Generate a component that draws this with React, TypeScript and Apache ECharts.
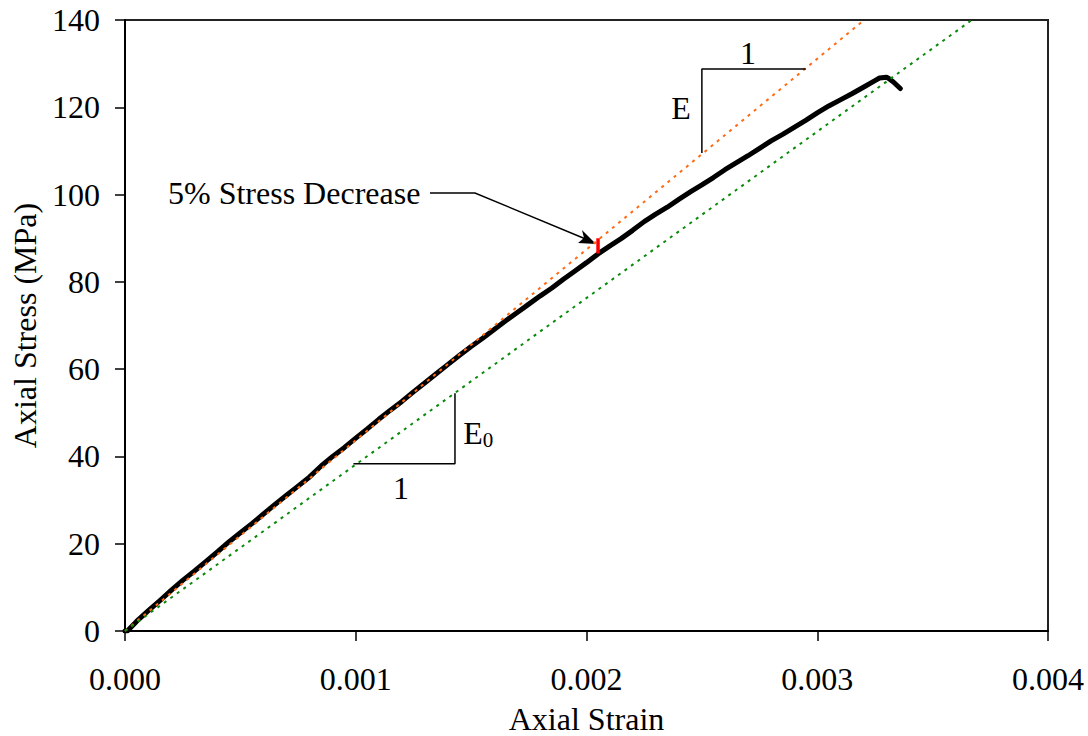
import React, { useEffect, useRef } from "react";
import * as echarts from "echarts";

// Axial strain / axial stress (MPa) for the test curve
const curveStrain = [
  0, 0.00001, 0.00005, 0.0001, 0.00015, 0.0002, 0.00025, 0.0003, 0.00035, 0.0004,
  0.00045, 0.0005, 0.00055, 0.0006, 0.00065, 0.0007, 0.00075, 0.0008, 0.00085, 0.0009,
  0.00095, 0.001, 0.00105, 0.0011, 0.00115, 0.0012, 0.00125, 0.0013, 0.00135, 0.0014,
  0.00145, 0.0015, 0.00155, 0.0016, 0.00165, 0.0017, 0.00175, 0.0018, 0.00185, 0.0019,
  0.00195, 0.002, 0.00205, 0.0021, 0.00215, 0.0022, 0.00225, 0.0023, 0.00235, 0.0024,
  0.00245, 0.0025, 0.00255, 0.0026, 0.00265, 0.0027, 0.00275, 0.0028, 0.00285, 0.0029,
  0.00295, 0.003, 0.00305, 0.0031, 0.00315, 0.0032, 0.00325, 0.00327, 0.0033, 0.00331,
  0.00333, 0.00336,
];
const curveStress = [
  0, 0, 2.2, 4.6, 6.9, 9.3, 11.6, 13.7, 15.9, 18.1,
  20.4, 22.5, 24.6, 26.8, 29.0, 31.1, 33.2, 35.3, 37.8, 40.0,
  42.0, 44.2, 46.3, 48.5, 50.6, 52.6, 54.8, 56.9, 59.0, 61.1,
  63.2, 65.2, 67.1, 69.1, 71.1, 73.0, 74.9, 76.8, 78.6, 80.6,
  82.5, 84.4, 86.4, 88.2, 89.9, 91.8, 93.8, 95.5, 97.1, 98.9,
  100.6, 102.2, 103.9, 105.7, 107.3, 108.9, 110.6, 112.3, 113.8, 115.4,
  117.0, 118.7, 120.3, 121.7, 123.1, 124.6, 126.1, 126.7, 126.9, 126.6,
  125.8, 124.3,
];

// Modulus lines (strain, stress)
const eLineStrain = [0, 0.003203];
const eLineStress = [0, 140];
const e0LineStrain = [0, 0.00367];
const e0LineStress = [0, 140];

// 5% stress decrease marker
const markerStrain = [0.00205, 0.00205];
const markerStress = [86.5, 90.0];

// Slope triangles
const eTriStrain = [0.0025, 0.0025, 0.00295];
const eTriStress = [109.5, 128.8, 128.8];
const e0TriStrain = [0.00099, 0.00143, 0.00143];
const e0TriStress = [38.3, 38.3, 54.5];

const xTicks = [0, 0.001, 0.002, 0.003, 0.004];
const yTicks = [0, 20, 40, 60, 80, 100, 120, 140];

const zip = (a: number[], b: number[]) => a.map((v, i) => [v, b[i]]);

const FONT = "'Liberation Serif', 'Times New Roman', serif";

export default function App() {
  const ref = useRef<HTMLDivElement>(null);
  useEffect(() => {
    if (!ref.current) return;
    const chart = echarts.init(ref.current, undefined, { renderer: "svg" });
    const thin = { color: "#000", width: 1.5 };
    chart.setOption({
      animation: false,
      backgroundColor: "#fff",
      textStyle: { fontFamily: FONT },
      grid: {
        left: 125,
        right: 40,
        top: 20,
        bottom: 105,
        containLabel: false,
        outerBoundsMode: "none",
        show: true,
        borderColor: "#222",
        borderWidth: 2,
        backgroundColor: "transparent",
      },
      xAxis: {
        type: "value",
        min: xTicks[0],
        max: xTicks[xTicks.length - 1],
        interval: 0.001,
        name: "Axial Strain",
        nameLocation: "middle",
        nameGap: 72,
        nameTextStyle: { fontFamily: FONT, fontSize: 32, color: "#000" },
        axisLine: { show: true, onZero: false, lineStyle: { color: "#000", width: 2 } },
        axisTick: { show: true, inside: false, length: 10, lineStyle: { color: "#000", width: 1.5 } },
        axisLabel: {
          margin: 32,
          fontFamily: FONT,
          fontSize: 32,
          color: "#000",
          formatter: (v: number) => v.toFixed(3),
        },
        splitLine: { show: false },
      },
      yAxis: {
        type: "value",
        min: yTicks[0],
        max: yTicks[yTicks.length - 1],
        interval: 20,
        name: "Axial Stress (MPa)",
        nameLocation: "middle",
        nameGap: 83,
        nameTextStyle: { fontFamily: FONT, fontSize: 32, color: "#000" },
        axisLine: { show: true, onZero: false, lineStyle: { color: "#000", width: 2 } },
        axisTick: { show: true, inside: false, length: 10, lineStyle: { color: "#000", width: 1.5 } },
        axisLabel: { margin: 25, fontFamily: FONT, fontSize: 32, color: "#000" },
        splitLine: { show: false },
      },
      series: [
        {
          type: "line",
          data: zip(eLineStrain, eLineStress),
          showSymbol: false,
          lineStyle: { color: "#ff6a13", width: 2, type: [3, 5] },
          z: 2,
        },
        {
          type: "line",
          data: zip(e0LineStrain, e0LineStress),
          showSymbol: false,
          lineStyle: { color: "#0a8a0a", width: 2, type: [3, 5] },
          z: 2,
        },
        {
          type: "line",
          data: zip(curveStrain, curveStress),
          showSymbol: false,
          lineStyle: { color: "#000", width: 5, join: "round", cap: "round" },
          z: 1,
        },
        {
          type: "line",
          data: zip(markerStrain, markerStress),
          showSymbol: false,
          lineStyle: { color: "#ff0000", width: 3.5 },
          z: 4,
        },
        {
          type: "line",
          data: zip(eTriStrain, eTriStress),
          showSymbol: false,
          lineStyle: thin,
          z: 3,
        },
        {
          type: "line",
          data: zip(e0TriStrain, e0TriStress),
          showSymbol: false,
          lineStyle: thin,
          z: 3,
        },
      ],
      graphic: [
        {
          type: "text",
          x: 168,
          y: 193,
          style: {
            text: "5% Stress Decrease",
            font: `32px ${FONT}`,
            fill: "#000",
            verticalAlign: "middle",
          },
        },
        {
          type: "polyline",
          shape: { points: [[430, 193], [475, 193], [588, 240]] },
          style: { stroke: "#000", lineWidth: 1.5, fill: "none" },
        },
        {
          type: "polygon",
          shape: { points: [[596, 244], [578, 243], [584, 238], [582, 230]] },
          style: { fill: "#000" },
        },
        {
          type: "text",
          x: 681,
          y: 108,
          style: { text: "E", font: `32px ${FONT}`, fill: "#000", align: "center", verticalAlign: "middle" },
        },
        {
          type: "text",
          x: 748,
          y: 53,
          style: { text: "1", font: `32px ${FONT}`, fill: "#000", align: "center", verticalAlign: "middle" },
        },
        {
          type: "text",
          x: 473,
          y: 433,
          style: { text: "E", font: `32px ${FONT}`, fill: "#000", align: "center", verticalAlign: "middle" },
        },
        {
          type: "text",
          x: 488,
          y: 440,
          style: { text: "0", font: `21px ${FONT}`, fill: "#000", align: "center", verticalAlign: "middle" },
        },
        {
          type: "text",
          x: 401,
          y: 488,
          style: { text: "1", font: `32px ${FONT}`, fill: "#000", align: "center", verticalAlign: "middle" },
        },
      ],
    });
    return () => chart.dispose();
  }, []);
  return (
    <div
      ref={ref}
      style={{ position: "fixed", left: 0, top: 0, width: 1088, height: 736, background: "#fff" }}
    />
  );
}
